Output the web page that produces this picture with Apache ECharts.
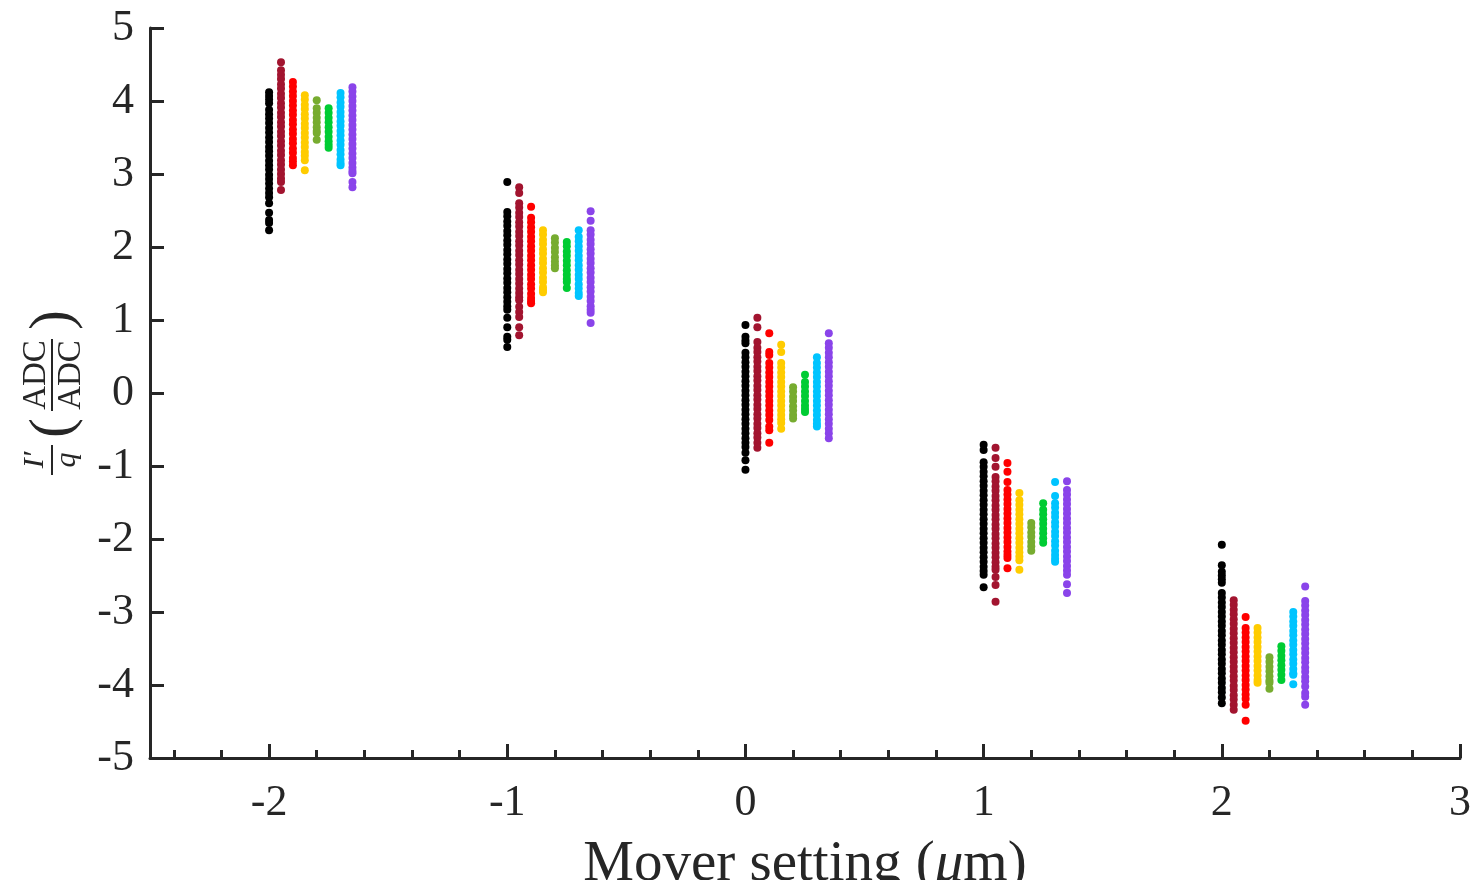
<!DOCTYPE html>
<html>
<head>
<meta charset="utf-8">
<title>Mover setting scan</title>
<script src="https://cdn.jsdelivr.net/npm/echarts@6/dist/echarts.min.js"></script>
<style>
  html, body { margin: 0; padding: 0; background: #fff; }
  #chart { width: 1471px; height: 880px; }
</style>
</head>
<body>
<div id="chart"></div>
<script>
// mover settings (um) and the small x shift used for each run
var settings = [-2, -1, 0, 1, 2];
var runOffsets = [0, 0.05, 0.1, 0.15, 0.2, 0.25, 0.3, 0.35];
var runColors = ['#000000', '#A2142F', '#FF0000', '#FFCC00', '#77AC30', '#00CC33', '#00C4FF', '#8A44EA'];
var xTicks = [-2, -1, 0, 1, 2, 3];
var xMinorTicks = [-2.4, -2.2, -1.8, -1.6, -1.4, -1.2, -0.8, -0.6, -0.4, -0.2, 0.2, 0.4, 0.6, 0.8,
  1.2, 1.4, 1.6, 1.8, 2.2, 2.4, 2.6, 2.8];

// I'/q values per run, one list per mover setting
var run1 = [
  [4.12, 4.07, 4.02, 3.97, 3.88, 3.82, 3.76, 3.70, 3.63, 3.57, 3.50, 3.44, 3.37, 3.31, 3.25, 3.18, 3.12, 3.06, 2.99, 2.93, 2.87, 2.80, 2.74, 2.68, 2.60, 2.47, 2.37, 2.33, 2.23],
  [2.89, 2.48, 2.42, 2.35, 2.29, 2.22, 2.16, 2.09, 2.03, 1.96, 1.90, 1.83, 1.77, 1.70, 1.64, 1.57, 1.51, 1.44, 1.38, 1.31, 1.25, 1.19, 1.14, 1.03, 0.90, 0.77, 0.73, 0.63],
  [0.93, 0.77, 0.72, 0.68, 0.55, 0.49, 0.42, 0.36, 0.29, 0.23, 0.16, 0.10, 0.03, -0.03, -0.10, -0.16, -0.23, -0.29, -0.36, -0.42, -0.49, -0.55, -0.62, -0.68, -0.74, -0.82, -0.92, -1.05],
  [-0.71, -0.78, -0.95, -1.01, -1.08, -1.14, -1.21, -1.27, -1.34, -1.40, -1.47, -1.53, -1.60, -1.66, -1.73, -1.79, -1.86, -1.92, -1.99, -2.05, -2.12, -2.18, -2.25, -2.31, -2.38, -2.44, -2.49, -2.66],
  [-2.08, -2.36, -2.45, -2.50, -2.55, -2.60, -2.74, -2.80, -2.87, -2.93, -3.00, -3.06, -3.13, -3.19, -3.26, -3.32, -3.39, -3.45, -3.52, -3.58, -3.65, -3.71, -3.78, -3.84, -3.91, -3.97, -4.04, -4.10, -4.17, -4.25]
];
var run2 = [
  [4.53, 4.42, 4.36, 4.30, 4.23, 4.17, 4.10, 4.04, 3.97, 3.91, 3.84, 3.78, 3.71, 3.65, 3.58, 3.52, 3.45, 3.39, 3.32, 3.26, 3.19, 3.13, 3.06, 3.00, 2.94, 2.89, 2.78],
  [2.82, 2.74, 2.60, 2.54, 2.47, 2.41, 2.34, 2.28, 2.21, 2.15, 2.08, 2.02, 1.95, 1.89, 1.82, 1.76, 1.69, 1.63, 1.56, 1.50, 1.43, 1.37, 1.31, 1.27, 1.18, 1.11, 1.04, 0.90, 0.79],
  [1.03, 0.90, 0.70, 0.62, 0.56, 0.49, 0.43, 0.36, 0.30, 0.23, 0.17, 0.10, 0.04, -0.03, -0.09, -0.16, -0.22, -0.29, -0.35, -0.42, -0.48, -0.55, -0.61, -0.68, -0.75],
  [-0.75, -0.89, -1.01, -1.15, -1.21, -1.28, -1.34, -1.41, -1.47, -1.54, -1.60, -1.67, -1.73, -1.80, -1.86, -1.93, -1.99, -2.06, -2.12, -2.19, -2.25, -2.32, -2.38, -2.42, -2.52, -2.63, -2.86],
  [-2.84, -2.90, -2.97, -3.03, -3.10, -3.16, -3.23, -3.29, -3.36, -3.42, -3.49, -3.55, -3.62, -3.68, -3.75, -3.81, -3.88, -3.94, -4.01, -4.07, -4.14, -4.20, -4.27, -4.34]
];
var run3 = [
  [4.26, 4.20, 4.13, 4.07, 4.00, 3.94, 3.87, 3.81, 3.74, 3.68, 3.61, 3.55, 3.48, 3.42, 3.35, 3.29, 3.22, 3.17, 3.12],
  [2.55, 2.40, 2.34, 2.27, 2.21, 2.14, 2.08, 2.01, 1.95, 1.88, 1.82, 1.75, 1.69, 1.62, 1.56, 1.49, 1.43, 1.36, 1.30, 1.26, 1.23],
  [0.82, 0.56, 0.52, 0.41, 0.35, 0.28, 0.22, 0.15, 0.09, 0.02, -0.04, -0.11, -0.17, -0.24, -0.30, -0.37, -0.46, -0.51, -0.68],
  [-0.96, -1.08, -1.22, -1.33, -1.39, -1.46, -1.52, -1.59, -1.65, -1.72, -1.78, -1.85, -1.91, -1.98, -2.04, -2.11, -2.17, -2.22, -2.26, -2.40],
  [-3.07, -3.22, -3.28, -3.35, -3.41, -3.48, -3.54, -3.61, -3.67, -3.74, -3.80, -3.87, -3.93, -4.00, -4.06, -4.13, -4.19, -4.27, -4.49]
];
var run4 = [
  [4.08, 4.02, 3.95, 3.89, 3.82, 3.76, 3.69, 3.63, 3.56, 3.50, 3.43, 3.37, 3.30, 3.25, 3.19, 3.05],
  [2.23, 2.17, 2.10, 2.04, 1.97, 1.91, 1.84, 1.78, 1.71, 1.65, 1.58, 1.52, 1.45, 1.41, 1.38],
  [0.66, 0.56, 0.41, 0.35, 0.28, 0.22, 0.15, 0.09, 0.02, -0.04, -0.11, -0.17, -0.24, -0.30, -0.36, -0.41, -0.49],
  [-1.37, -1.47, -1.53, -1.60, -1.66, -1.73, -1.79, -1.86, -1.92, -1.99, -2.05, -2.12, -2.18, -2.24, -2.29, -2.42],
  [-3.22, -3.28, -3.35, -3.41, -3.48, -3.54, -3.61, -3.67, -3.74, -3.80, -3.87, -3.93, -3.97]
];
var run5 = [
  [4.01, 3.90, 3.84, 3.77, 3.71, 3.64, 3.59, 3.56, 3.47],
  [2.12, 2.06, 1.99, 1.93, 1.86, 1.80, 1.75, 1.71],
  [0.08, 0.02, -0.05, -0.11, -0.18, -0.24, -0.30, -0.35],
  [-1.78, -1.84, -1.91, -1.97, -2.04, -2.10, -2.16],
  [-3.62, -3.68, -3.75, -3.81, -3.88, -3.94, -3.97, -4.05]
];
var run6 = [
  [3.90, 3.84, 3.77, 3.71, 3.64, 3.58, 3.51, 3.45, 3.40, 3.36],
  [2.07, 2.01, 1.94, 1.88, 1.81, 1.75, 1.68, 1.62, 1.56, 1.52, 1.44],
  [0.25, 0.15, 0.09, 0.02, -0.04, -0.11, -0.17, -0.22, -0.26],
  [-1.51, -1.60, -1.66, -1.73, -1.79, -1.86, -1.92, -1.99, -2.05],
  [-3.47, -3.53, -3.60, -3.66, -3.73, -3.79, -3.86, -3.93]
];
var run7 = [
  [4.11, 4.05, 3.98, 3.92, 3.85, 3.79, 3.72, 3.66, 3.59, 3.53, 3.46, 3.40, 3.33, 3.27, 3.20, 3.15, 3.12],
  [2.23, 2.14, 2.08, 2.01, 1.95, 1.88, 1.82, 1.75, 1.69, 1.62, 1.56, 1.49, 1.43, 1.37, 1.33],
  [0.49, 0.41, 0.35, 0.28, 0.22, 0.15, 0.09, 0.02, -0.04, -0.11, -0.17, -0.24, -0.30, -0.37, -0.42, -0.46],
  [-1.22, -1.41, -1.51, -1.57, -1.64, -1.70, -1.77, -1.83, -1.90, -1.96, -2.03, -2.09, -2.16, -2.22, -2.27, -2.31],
  [-3.00, -3.06, -3.13, -3.19, -3.26, -3.32, -3.39, -3.45, -3.52, -3.58, -3.65, -3.71, -3.78, -3.84, -3.86, -3.99]
];
var run8 = [
  [4.19, 4.13, 4.06, 4.00, 3.93, 3.87, 3.80, 3.74, 3.67, 3.61, 3.54, 3.48, 3.41, 3.35, 3.28, 3.22, 3.15, 3.09, 3.04, 3.01, 2.89, 2.82],
  [2.49, 2.36, 2.23, 2.17, 2.10, 2.04, 1.97, 1.91, 1.84, 1.78, 1.71, 1.65, 1.58, 1.52, 1.45, 1.39, 1.32, 1.26, 1.19, 1.14, 1.10, 0.96],
  [0.82, 0.68, 0.62, 0.55, 0.49, 0.42, 0.36, 0.29, 0.23, 0.16, 0.10, 0.03, -0.03, -0.10, -0.16, -0.23, -0.29, -0.36, -0.42, -0.49, -0.55, -0.62],
  [-1.21, -1.33, -1.39, -1.46, -1.52, -1.59, -1.65, -1.72, -1.78, -1.85, -1.91, -1.98, -2.04, -2.11, -2.17, -2.24, -2.30, -2.37, -2.43, -2.49, -2.62, -2.74],
  [-2.65, -2.85, -2.91, -2.98, -3.04, -3.11, -3.17, -3.24, -3.30, -3.37, -3.43, -3.50, -3.56, -3.63, -3.69, -3.76, -3.82, -3.89, -3.95, -4.02, -4.11, -4.16, -4.27]
];
var runs = [run1, run2, run3, run4, run5, run6, run7, run8];

var serif = '"Liberation Serif", "DejaVu Serif", serif';
var axisColor = '#262626';

var series = runs.map(function (run, r) {
  var pts = [];
  run.forEach(function (ys, s) {
    ys.forEach(function (y) {
      pts.push([settings[s] + runOffsets[r], y]);
    });
  });
  return {
    type: 'scatter',
    name: 'run ' + (r + 1),
    symbolSize: 8,
    itemStyle: { color: runColors[r], opacity: 1 },
    data: pts,
    silent: true
  };
});

function labelText(text, x, y, font) {
  return {
    type: 'text', x: x, y: y,
    style: { text: text, font: font, fill: axisColor, textAlign: 'center', textVerticalAlign: 'middle', align: 'center', verticalAlign: 'middle' }
  };
}

var chart = echarts.init(document.getElementById('chart'));
chart.setOption({
  animation: false,
  grid: { left: 150, right: 11, top: 28, bottom: 122, containLabel: false, outerBoundsMode: 'none' },
  xAxis: [{
    type: 'value',
    position: 'bottom',
    min: -2.5,
    max: 3,
    splitLine: { show: false },
    axisLine: { onZero: false, lineStyle: { color: axisColor, width: 3 } },
    axisTick: { inside: true, length: 14, customValues: xTicks, lineStyle: { color: axisColor, width: 3 } },
    axisLabel: { customValues: xTicks, margin: 23, color: axisColor, fontFamily: serif, fontSize: 44 },
    name: '{n|Mover setting (}{m|μ}{n|m)}',
    nameLocation: 'middle',
    nameGap: 79,
    nameMoveOverlap: false,
    nameTextStyle: {
      rich: {
        n: { fontFamily: serif, fontSize: 57, color: axisColor },
        m: { fontFamily: serif, fontSize: 57, fontStyle: 'italic', color: axisColor }
      }
    }
  }, {
    type: 'value',
    position: 'bottom',
    min: -2.5,
    max: 3,
    splitLine: { show: false },
    axisLine: { show: false, onZero: false },
    axisLabel: { show: false },
    axisTick: { inside: true, length: 8, customValues: xMinorTicks, lineStyle: { color: axisColor, width: 3 } }
  }],
  yAxis: {
    type: 'value',
    min: -5,
    max: 5,
    interval: 1,
    splitLine: { show: false },
    axisLine: { onZero: false, lineStyle: { color: axisColor, width: 3 } },
    axisTick: { inside: true, length: 14, lineStyle: { color: axisColor, width: 3 } },
    axisLabel: { margin: 16, color: axisColor, fontFamily: serif, fontSize: 44 }
  },
  graphic: [{
    type: 'group',
    x: 52,
    y: 394,
    rotation: Math.PI / 2,
    children: [
      labelText('I′', -66, -17, 'italic 30px ' + serif),
      { type: 'line', shape: { x1: -81, y1: 0, x2: -51, y2: 0 }, style: { stroke: axisColor, lineWidth: 2 } },
      labelText('q', -66, 15, 'italic 30px ' + serif),
      labelText('(', -34, 2, '60px ' + serif),
      labelText('ADC', 19, -16, '33px ' + serif),
      { type: 'line', shape: { x1: -17, y1: 0, x2: 55, y2: 0 }, style: { stroke: axisColor, lineWidth: 2 } },
      labelText('ADC', 19, 19, '33px ' + serif),
      labelText(')', 74, 2, '60px ' + serif)
    ]
  }],
  series: series
});
</script>
</body>
</html>
